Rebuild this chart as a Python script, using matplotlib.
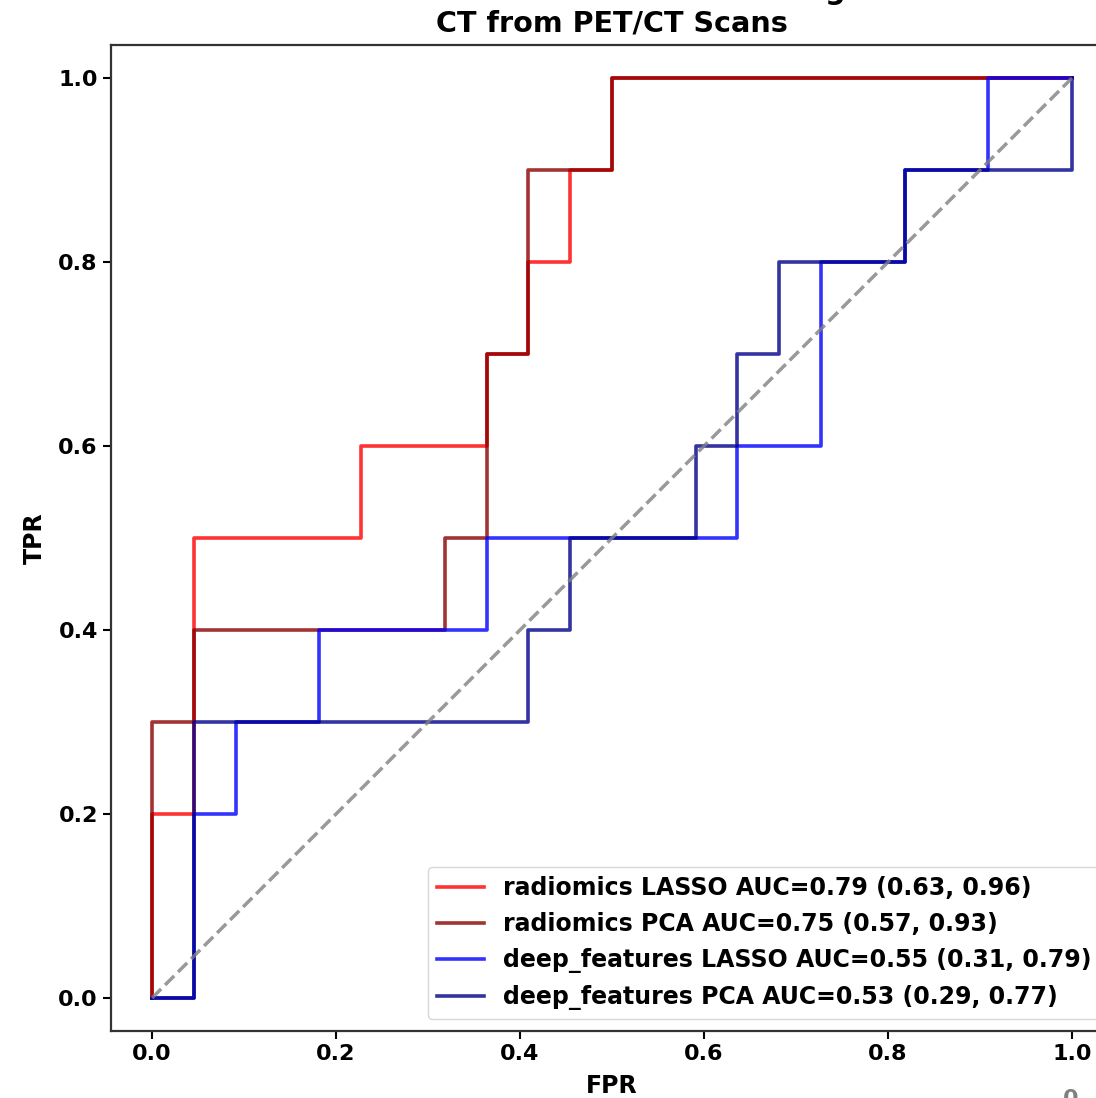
import matplotlib
matplotlib.use('Agg')
from matplotlib import pyplot as plt

# ROC curve corner points (FPR steps of 1/22, TPR steps of 0.1)
rad_lasso_fpr = [0, 0, 0.0455, 0.0455, 0.2273, 0.2273, 0.3636, 0.3636, 0.4091, 0.4091, 0.4545, 0.4545, 0.5, 0.5, 1.0]
rad_lasso_tpr = [0, 0.2, 0.2, 0.5, 0.5, 0.6, 0.6, 0.7, 0.7, 0.8, 0.8, 0.9, 0.9, 1.0, 1.0]

rad_pca_fpr = [0, 0, 0.0455, 0.0455, 0.3182, 0.3182, 0.3636, 0.3636, 0.4091, 0.4091, 0.5, 0.5, 1.0]
rad_pca_tpr = [0, 0.3, 0.3, 0.4, 0.4, 0.5, 0.5, 0.7, 0.7, 0.9, 0.9, 1.0, 1.0]

deep_lasso_fpr = [0, 0.0455, 0.0455, 0.0909, 0.0909, 0.1818, 0.1818, 0.3636, 0.3636, 0.6364, 0.6364,
                  0.7273, 0.7273, 0.8182, 0.8182, 0.9091, 0.9091, 1.0]
deep_lasso_tpr = [0, 0, 0.2, 0.2, 0.3, 0.3, 0.4, 0.4, 0.5, 0.5, 0.6, 0.6, 0.8, 0.8, 0.9, 0.9, 1.0, 1.0]

deep_pca_fpr = [0, 0.0455, 0.0455, 0.4091, 0.4091, 0.4545, 0.4545, 0.5909, 0.5909, 0.6364, 0.6364,
                0.6818, 0.6818, 0.8182, 0.8182, 1.0, 1.0]
deep_pca_tpr = [0, 0, 0.3, 0.3, 0.4, 0.4, 0.5, 0.5, 0.6, 0.6, 0.7, 0.7, 0.8, 0.8, 0.9, 0.9, 1.0]

labels = ['radiomics LASSO AUC=0.79 (0.63, 0.96)',
          'radiomics PCA AUC=0.75 (0.57, 0.93)',
          'deep_features LASSO AUC=0.55 (0.31, 0.79)',
          'deep_features PCA AUC=0.53 (0.29, 0.77)']
colors = ['red', 'darkred', 'blue', 'darkblue']

ticks = [0.0, 0.2, 0.4, 0.6, 0.8, 1.0]

plt.rcParams['font.family'] = 'DejaVu Sans'
plt.rcParams['font.weight'] = 'bold'

fig = plt.figure(figsize=(10.96, 10.98), dpi=100)
ax = fig.add_axes([0.1013, 0.061, 0.9142, 0.898])

curves = [(rad_lasso_fpr, rad_lasso_tpr), (rad_pca_fpr, rad_pca_tpr),
          (deep_lasso_fpr, deep_lasso_tpr), (deep_pca_fpr, deep_pca_tpr)]
for (fpr, tpr), lab, col in zip(curves, labels, colors):
    ax.plot(fpr, tpr, color=col, alpha=0.8, lw=2.6, label=lab)

# chance line
ax.plot([0, 1], [0, 1], linestyle='--', color='gray', alpha=0.8, lw=2.5)

ax.set_xlim(-0.0446, 1.0446)
ax.set_ylim(-0.0359, 1.0359)
ax.set_xticks(ticks)
ax.set_yticks(ticks)
ax.tick_params(labelsize=16, width=1.5, length=6)
for s in ax.spines.values():
    s.set_linewidth(1.6)
    s.set_color('#333333')

ax.set_xlabel('FPR', fontsize=17, fontweight='bold', labelpad=7)
ax.set_ylabel('TPR', fontsize=17, fontweight='bold', labelpad=8)
ax.set_title('ROC Curves for Models using\nCT from PET/CT Scans', fontsize=20.6, fontweight='bold', pad=10)
ax.legend(loc='lower right', fontsize=17)

fig.text(1071 / 1096, 9 / 1098, '0', ha='center', va='top', color='gray', fontsize=16)

fig.savefig('out.png', dpi=100)
